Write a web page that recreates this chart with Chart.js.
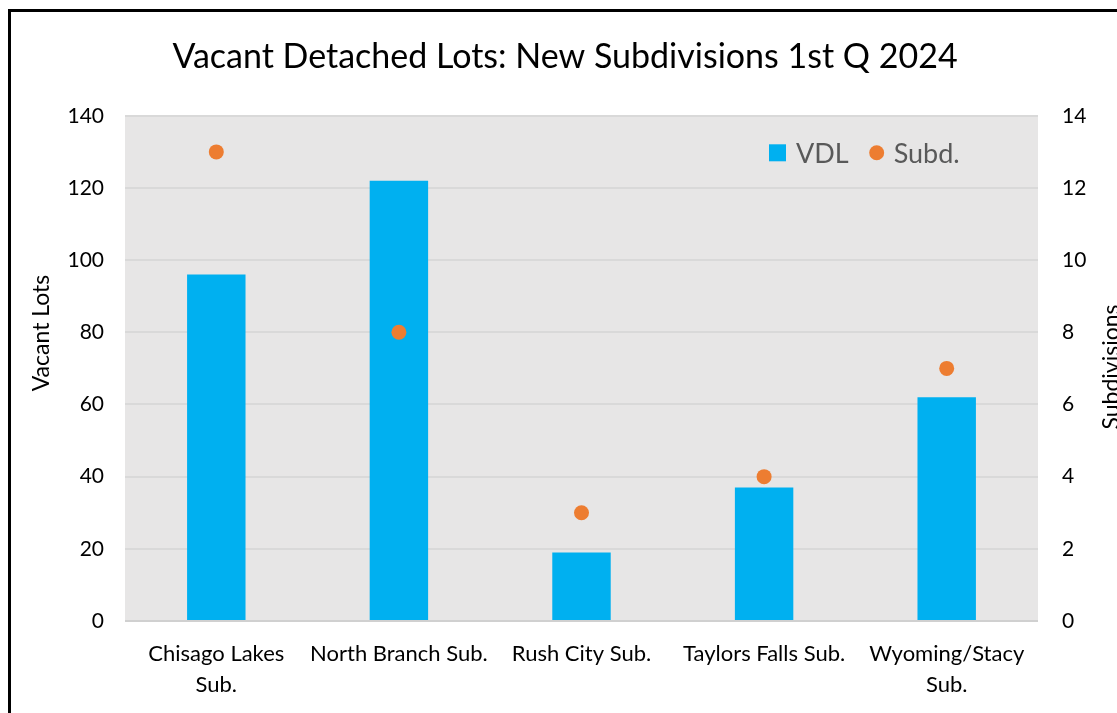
<!DOCTYPE html>
<html>
<head>
<meta charset="utf-8">
<title>Vacant Detached Lots</title>
<script src="https://cdn.jsdelivr.net/npm/chart.js@4"></script>
<style>
  html, body { margin: 0; padding: 0; background: #fff; overflow: hidden; }
  .frame {
    position: absolute; left: 8px; top: 9px;
    width: 1200px; height: 800px;
    border: 3px solid #000;
  }
  .chart-box { position: absolute; left: 0; top: 0; width: 1130px; height: 713px; }
</style>
</head>
<body>
<div class="frame"></div>
<div class="chart-box"><canvas id="chart"></canvas></div>
<script>
const categories = [['Chisago Lakes', 'Sub.'], 'North Branch Sub.', 'Rush City Sub.', 'Taylors Falls Sub.', ['Wyoming/Stacy', 'Sub.']];
const vacantLots = [96, 122, 19, 37, 62];
const subdivisions = [13, 8, 3, 4, 7];
const lotTicks = [0, 20, 40, 60, 80, 100, 120, 140];
const subdTicks = [0, 2, 4, 6, 8, 10, 12, 14];

const FONT = 'Lato, "Noto Sans", sans-serif';
const BLUE = '#00b0f0';
const ORANGE = '#ed7d31';

// grey plot background behind the bars
const plotBackground = {
  id: 'plotBackground',
  beforeDraw(chart) {
    const { ctx, chartArea: a } = chart;
    ctx.save();
    ctx.fillStyle = '#e7e6e6';
    ctx.fillRect(a.left, a.top, a.right - a.left, a.bottom - a.top);
    ctx.restore();
  }
};

// legend inside the plot (top right) and both axis titles, reading bottom-to-top
const extras = {
  id: 'extras',
  afterDraw(chart) {
    const { ctx, chartArea: a } = chart;
    const bars = chart.data.datasets.find(d => d.type === 'bar');
    const dots = chart.data.datasets.find(d => d.type === 'line');
    ctx.save();
    ctx.font = '27px ' + FONT;
    ctx.textBaseline = 'middle';
    ctx.textAlign = 'left';
    const y = a.top + 37;
    let x = a.right - 269;
    ctx.fillStyle = BLUE;
    ctx.fillRect(x, y - 8.5, 17, 17);
    ctx.fillStyle = '#595959';
    ctx.fillText(bars.label, x + 27, y + 1);
    x += 27 + ctx.measureText(bars.label).width + 28;
    ctx.fillStyle = ORANGE;
    ctx.beginPath();
    ctx.arc(x, y, 7.5, 0, Math.PI * 2);
    ctx.fill();
    ctx.fillStyle = '#595959';
    ctx.fillText(dots.label, x + 17, y + 1);

    ctx.fillStyle = '#000';
    ctx.font = '23px ' + FONT;
    ctx.textAlign = 'center';
    ctx.save();
    ctx.translate(42, 333);
    ctx.rotate(-Math.PI / 2);
    ctx.fillText('Vacant Lots', 0, 0);
    ctx.restore();

    ctx.translate(1112, 367);
    ctx.rotate(-Math.PI / 2);
    ctx.fillText('Subdivisions', 0, 0);
    ctx.restore();
  }
};

new Chart(document.getElementById('chart'), {
  data: {
    labels: categories,
    datasets: [{
      type: 'line',
      label: 'Subd.',
      data: subdivisions,
      yAxisID: 'y1',
      showLine: false,
      pointRadius: 7.5,
      pointHoverRadius: 7.5,
      pointBackgroundColor: ORANGE,
      pointBorderWidth: 0,
      order: 1
    }, {
      type: 'bar',
      label: 'VDL',
      data: vacantLots,
      yAxisID: 'y',
      backgroundColor: BLUE,
      barPercentage: 0.32,
      categoryPercentage: 1,
      order: 2
    }]
  },
  options: {
    responsive: true,
    maintainAspectRatio: false,
    animation: false,
    layout: { padding: { left: 0, right: 0, top: 0, bottom: 0 } },
    plugins: {
      legend: { display: false },
      tooltip: { enabled: false },
      title: {
        display: true,
        text: 'Vacant Detached Lots: New Subdivisions 1st Q 2024',
        color: '#000',
        font: { family: FONT, size: 34, weight: 'normal' },
        padding: { top: 37, bottom: 38 }
      }
    },
    scales: {
      x: {
        grid: { display: false },
        border: { display: false },
        ticks: {
          color: '#000',
          font: { family: FONT, size: 22, lineHeight: 1.38 },
          maxRotation: 0,
          autoSkip: false,
          padding: 10
        },
        afterFit(scale) { scale.height = 92; }
      },
      y: {
        position: 'left',
        min: 0,
        max: 140,
        afterBuildTicks(scale) { scale.ticks = lotTicks.map(v => ({ value: v })); },
        grid: {
          color: ctx => ctx.index === 0 ? '#d0d0d0' : '#d9d9d9',
          lineWidth: 2,
          drawTicks: false
        },
        border: { display: false },
        ticks: { color: '#000', font: { family: FONT, size: 21 }, padding: 21 },
        afterFit(scale) { scale.width = 125; }
      },
      y1: {
        position: 'right',
        min: 0,
        max: 14,
        afterBuildTicks(scale) { scale.ticks = subdTicks.map(v => ({ value: v })); },
        grid: { display: false, drawTicks: false },
        border: { display: false },
        ticks: { color: '#000', font: { family: FONT, size: 21 }, padding: 24 },
        afterFit(scale) { scale.width = 92; }
      }
    }
  },
  plugins: [plotBackground, extras]
});
</script>
</body>
</html>
